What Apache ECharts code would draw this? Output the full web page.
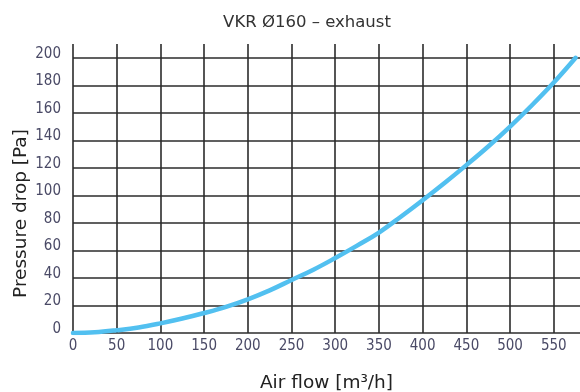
<!DOCTYPE html>
<html>
<head>
<meta charset="utf-8">
<script src="https://cdn.jsdelivr.net/npm/echarts@6/dist/echarts.min.js"></script>
<style>html,body{margin:0;padding:0;background:#fff;}#c{width:580px;height:392px;}</style>
</head>
<body>
<div id="c"></div>
<script>
var titleText = 'VKR Ø160 – exhaust';
var xName = 'Air flow [m³/h]';
var yName = 'Pressure drop [Pa]';
var airFlow = [0, 25, 50, 75, 100, 125, 150, 175, 200, 225, 250, 275, 300, 325, 350, 375, 400, 425, 450, 475, 500, 525, 550, 575];
var pressureDrop = [0, 0.5, 2, 4, 7, 10.5, 14.5, 19, 24.5, 31, 38.5, 46, 54.5, 63.5, 73, 84.5, 96.5, 109, 122, 135.5, 150, 165.5, 182, 200];
var xTicks = [0, 50, 100, 150, 200, 250, 300, 350, 400, 450, 500, 550];
var yTicks = [0, 20, 40, 60, 80, 100, 120, 140, 160, 180, 200];

var chart = echarts.init(document.getElementById('c'), null, {renderer: 'canvas'});
var gridLine = {color: '#2b2b2b', width: 1.6};
var labelFont = {fontFamily: '"Liberation Sans Narrow", "DejaVu Sans Condensed", sans-serif', fontSize: 15, color: '#4a4a66'};
chart.setOption({
  animation: false,
  title: {
    text: titleText, left: 302, top: 9, textAlign: 'center',
    textStyle: {fontFamily: '"DejaVu Sans", sans-serif', fontSize: 16.5, fontWeight: 'normal', color: '#333'}
  },
  grid: {left: 73, right: 0, top: 44, bottom: 59, outerBoundsMode: 'none', containLabel: false},
  xAxis: {
    type: 'value', min: 0, max: 580, interval: 50,
    name: xName, nameLocation: 'middle', nameGap: 41,
    nameTextStyle: {fontFamily: '"DejaVu Sans", sans-serif', fontSize: 18.5, color: '#222'},
    axisLine: {show: false}, axisTick: {show: false},
    splitLine: {show: true, lineStyle: gridLine, showMaxLine: false},
    axisLabel: Object.assign({margin: 6, showMaxLabel: false,
      formatter: function (v) { return xTicks.indexOf(v) >= 0 ? String(v) : ''; }}, labelFont)
  },
  yAxis: {
    type: 'value', min: 0, max: 210, interval: 20,
    name: yName, nameLocation: 'middle', nameGap: 42, nameMoveOverlap: false,
    nameTextStyle: {fontFamily: '"DejaVu Sans", sans-serif', fontSize: 18.5, color: '#222', padding: [0, 50, 0, 0]},
    axisLine: {show: false}, axisTick: {show: false},
    splitLine: {show: true, lineStyle: gridLine, showMaxLine: false},
    axisLabel: Object.assign({margin: 12, showMaxLabel: false, verticalAlign: 'bottom', lineHeight: 8,
      formatter: function (v) { return yTicks.indexOf(v) >= 0 ? String(v) : ''; }}, labelFont)
  },
  series: [{
    type: 'line',
    data: airFlow.map(function (x, i) { return [x, pressureDrop[i]]; }),
    smooth: 0.4,
    showSymbol: false,
    lineStyle: {color: '#52c0f0', width: 4.5, cap: 'round'},
    z: 5
  }]
});
</script>
</body>
</html>
